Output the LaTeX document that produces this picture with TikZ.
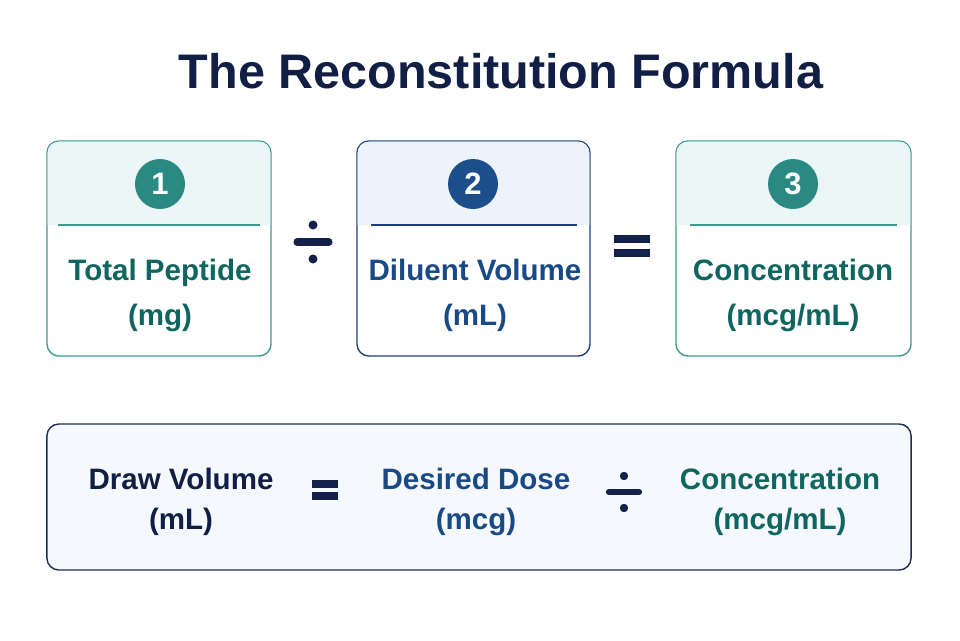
\documentclass[tikz,border=0pt]{standalone}
\usepackage{fontspec}
\setmainfont{Liberation Sans}
\usetikzlibrary{positioning, calc}
\definecolor{titlenavy}{HTML}{111F45}
\definecolor{opnavy}{HTML}{13214A}
\definecolor{tealline}{HTML}{3C9A92}
\definecolor{tealdisc}{HTML}{2A8A82}
\definecolor{tealtext}{HTML}{0F6660}
\definecolor{tealhead}{HTML}{EBF6F6}
\definecolor{blueline}{HTML}{1E4278}
\definecolor{bluedisc}{HTML}{1C4F8A}
\definecolor{bluetext}{HTML}{1A4A86}
\definecolor{bluehead}{HTML}{EDF3FA}
\definecolor{rowfill}{HTML}{F5F8FC}
\definecolor{rowline}{HTML}{1C2D55}
\tikzset{
  termbox/.style={rectangle, rounded corners=0.3cm, line width=1pt, fill=white,
    minimum width=5.6cm, minimum height=5.375cm},
  stepdisc/.style={circle, minimum size=1.25cm, inner sep=0pt, text=white,
    font=\fontsize{22}{22}\selectfont\bfseries},
  termtext/.style={align=center, font=\fontsize{21}{32}\selectfont\bfseries},
  rowtext/.style={align=center, font=\fontsize{21}{28}\selectfont\bfseries},
  opbar/.style={line width=5pt, line cap=round, opnavy}
}
\begin{document}
\begin{tikzpicture}[x=0.025cm, y=-0.025cm]
  \useasboundingbox (0,0) rectangle (960,640);
  \node[font=\fontsize{34.5}{34}\selectfont\bfseries, text=titlenavy] (title) at (501,71) {The Reconstitution Formula};

  % top row
  \node[termbox, draw=tealline] (pep) at (159,248.5) {};
  \node[termbox, draw=blueline, minimum width=5.825cm] (dil) at (473.5,248.5) {};
  \node[termbox, draw=tealline, minimum width=5.875cm] (conc) at (793.5,248.5) {};
  \fill[tealhead] (47.6,225) [rounded corners=0.28cm] -- (47.6,141.6) -- (270.4,141.6) [sharp corners] -- (270.4,225) -- cycle;
  \fill[bluehead] (357.6,225) [rounded corners=0.28cm] -- (357.6,141.6) -- (589.4,141.6) [sharp corners] -- (589.4,225) -- cycle;
  \fill[tealhead] (676.6,225) [rounded corners=0.28cm] -- (676.6,141.6) -- (910.4,141.6) [sharp corners] -- (910.4,225) -- cycle;
  \draw[tealline, line width=1pt] (58,225) -- (260,225);
  \draw[blueline, line width=1pt] (371,225) -- (577,225);
  \draw[tealline, line width=1pt] (690,225) -- (897,225);
  \node[stepdisc, fill=tealdisc] (n1) at (160,184) {1};
  \node[stepdisc, fill=bluedisc] (n2) at (473,184) {2};
  \node[stepdisc, fill=tealdisc] (n3) at (793,184) {3};
  \node[termtext, text=tealtext] (peptxt) at (160,295) {Total Peptide\\(mg)};
  \node[termtext, text=bluetext] (diltxt) at (475,295) {Diluent Volume\\(mL)};
  \node[termtext, text=tealtext] (conctxt) at (793,295) {Concentration\\(mcg/mL)};

  % operators of the top row
  \coordinate (div1) at (313,242);
  \draw[opbar] ($(div1)+(-16,0)$) -- ($(div1)+(16,0)$);
  \fill[opnavy] ($(div1)+(0,-17)$) circle (4.5) ($(div1)+(0,17)$) circle (4.5);
  \coordinate (eq1) at (632,246);
  \draw[opbar, line width=6pt, line cap=butt] ($(eq1)+(-18,-7)$) -- ($(eq1)+(18,-7)$) ($(eq1)+(-18,7)$) -- ($(eq1)+(18,7)$);

  % bottom row
  \node[rectangle, rounded corners=0.3cm, draw=rowline, line width=1pt, fill=rowfill,
    minimum width=21.6cm, minimum height=3.65cm] (row) at (479,497) {};
  \node[rowtext, text=titlenavy] (drawtxt) at (181,502) {Draw Volume\\(mL)};
  \node[rowtext, text=bluetext] (dosetxt) at (476,502) {Desired Dose\\(mcg)};
  \node[rowtext, text=tealtext] (conc2txt) at (780,502) {Concentration\\(mcg/mL)};
  \coordinate (eq2) at (325,490);
  \draw[opbar, line width=6pt, line cap=butt] ($(eq2)+(-13,-6)$) -- ($(eq2)+(13,-6)$) ($(eq2)+(-13,6)$) -- ($(eq2)+(13,6)$);
  \coordinate (div2) at (624,492);
  \draw[opbar, line width=4.5pt] ($(div2)+(-15,0)$) -- ($(div2)+(15,0)$);
  \fill[opnavy] ($(div2)+(0,-16)$) circle (4.2) ($(div2)+(0,16)$) circle (4.2);
\end{tikzpicture}
\end{document}
